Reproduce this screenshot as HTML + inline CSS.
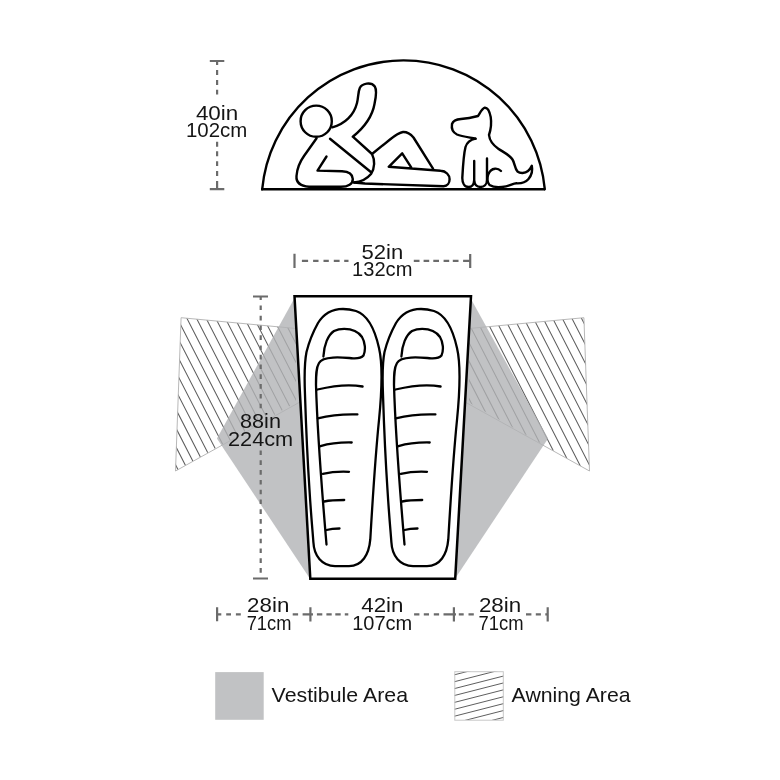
<!DOCTYPE html>
<html><head><meta charset="utf-8">
<style>
html,body{margin:0;padding:0;background:#fff;}
body{width:780px;height:780px;overflow:hidden;}
svg{display:block;will-change:transform;}
text{font-family:"Liberation Sans",sans-serif;fill:#151515;}
</style></head>
<body>
<svg width="780" height="780" viewBox="0 0 780 780">
<defs>
  <clipPath id="awnL"><polygon points="181.1,317.7 296,328.5 296,402.5 175.5,471"/></clipPath>
  <clipPath id="awnR"><polygon points="583.9,317.7 469,328.5 469,402.5 589.5,471"/></clipPath>
  <clipPath id="legH"><rect x="454.5" y="671.5" width="49" height="48.5"/></clipPath>
</defs>

<!-- ===== top: dome ===== -->
<g fill="none" stroke="#000" stroke-width="2.4" stroke-linecap="round" stroke-linejoin="round">
  <path d="M262.2,189.2 A141.9,141.9 0 0 1 544.8,189.2"/>
  <path d="M261,189.2 L545,189.2" stroke-linecap="butt"/>
  <!-- head -->
  <circle cx="316.2" cy="121.2" r="15.6"/>
  <!-- arm -->
  <path d="M332.3,127.3 C345,124 354,115 357,103 C358.5,97 358,92 359.8,88 C362,83.5 371,81.5 374.8,86.5 C377,90 376,97 374.5,104 C372,118 363,128.5 352.8,136.7 L372,154 L390,139.5 C395,135.5 399,132.5 403,132 C407,131.8 410.5,134 413.5,137.5 L433,168.7"/>
  <!-- torso diagonal -->
  <path d="M330,138.8 L370.8,172"/>
  <!-- hip curve -->
  <path d="M372,154 C375,160 375,168 371,174 C366,180 360,182 354,182.5"/>
  <!-- body left & forearm -->
  <path d="M316.6,138.3 L304,156 C299,163 297,169 296.5,176 C296,182 300,186 309,186.8 L341,186.8 C348,186.8 353,184 352.8,179 C352.5,174 348,171.5 342,171.3 L317.5,170.6 L326.5,156.5"/>
  <!-- lower leg -->
  <path d="M354,182.5 L365,183.5 L443.5,186.3 C447.5,186.1 449.6,183 449.6,179.3 C449.6,175 446,171 440.6,170.8 L388.7,166.8 L402.2,153.3 L411.2,167.4"/>
  <!-- dog -->
  <path d="M475.5,138.7 C470,137.5 462,136.5 457,134.5 C452,132 451.5,127 452,124 C453,121 457,119.3 461,119 C467,118.5 473,117.3 478,116 C480,113 482,108.5 484.8,107.7 C487.5,107.5 489.5,111 490.7,117 C491.5,122 491,129 489,135 C489.5,140 493,145 498.3,148.7 C503,152 509,154.5 512.5,159.5 C515,163.5 514.5,168 517.5,171.5 C520,173.5 525,173.5 528,171 C530,169.5 531,167.5 531.8,165.8 C532.8,170.5 531.5,175.5 528.5,179 C525.5,182.5 521,183.5 516.5,183.3 C513,183.5 511,185.2 506,186.3 C500,187.5 493,187.2 489.5,185 C487,182.5 487,177.5 488.2,174.5 C489.5,171 492,169 495,168.7 C497.5,168.5 499.5,169.5 501,171"/>
  <path d="M475.5,138.7 C470,140 467,142 465.5,147 C463.5,155 463,165 462.3,178 C462.3,183 464.5,187 468.5,187 C472,187 474,184 474.2,180 L474.2,160.9 M474.2,180 C474.5,184.5 477,187 480.5,187 C484,187 487,184.5 487,180 L487,158.5"/>
</g>
<!-- dome dimension -->
<g stroke="#6b6b6b" stroke-width="2.2" fill="none">
  <path d="M209.8,61 H224.3 M209.8,189.2 H224.3"/>
  <path d="M217.1,61 V65 M217.1,70 V75 M217.1,80 V85 M217.1,89.7 V94.5 M217.1,141.8 V146.7 M217.1,151.3 V156.2 M217.1,161.2 V166.1 M217.1,171.1 V176 M217.1,180.9 V189"/>
</g>
<text x="217.1" y="119.6" font-size="21" text-anchor="middle" textLength="42.4" lengthAdjust="spacingAndGlyphs">40in</text>
<text x="216.6" y="136.8" font-size="21" text-anchor="middle" textLength="61.3" lengthAdjust="spacingAndGlyphs">102cm</text>

<!-- ===== floor plan ===== -->
<!-- awnings (hatched) -->
<g clip-path="url(#awnL)"><path d="M81.43,300L173.74,480M91.04,300L183.34,480M100.65,300L192.95,480M110.25,300L202.56,480M119.86,300L212.17,480M129.47,300L221.78,480M139.08,300L231.39,480M148.69,300L241.00,480M158.30,300L250.61,480M167.91,300L260.21,480M177.52,300L269.82,480M187.12,300L279.43,480M196.73,300L289.04,480M206.34,300L298.65,480M215.95,300L308.26,480M225.56,300L317.87,480M235.17,300L327.48,480M244.78,300L337.08,480M254.39,300L346.69,480M263.99,300L356.30,480M273.60,300L365.91,480M283.21,300L375.52,480M292.82,300L385.13,480" stroke="#5e5e5e" stroke-width="1.05" fill="none"/></g>
<g clip-path="url(#awnR)"><path d="M370.32,300L462.63,480M379.93,300L472.24,480M389.54,300L481.85,480M399.15,300L491.46,480M408.76,300L501.07,480M418.37,300L510.67,480M427.98,300L520.28,480M437.58,300L529.89,480M447.19,300L539.50,480M456.80,300L549.11,480M466.41,300L558.72,480M476.02,300L568.33,480M485.63,300L577.94,480M495.24,300L587.54,480M504.85,300L597.15,480M514.45,300L606.76,480M524.06,300L616.37,480M533.67,300L625.98,480M543.28,300L635.59,480M552.89,300L645.20,480M562.50,300L654.81,480M572.11,300L664.41,480M581.71,300L674.02,480M591.32,300L683.63,480" stroke="#5e5e5e" stroke-width="1.05" fill="none"/></g>
<polyline points="296,328.5 181.1,317.7 175.5,471 300,402" fill="none" stroke="#b0b0b0" stroke-width="0.9"/>
<polyline points="469,328.5 583.9,317.7 589.5,471 465,402" fill="none" stroke="#b0b0b0" stroke-width="0.9"/>
<!-- vestibules -->
<polygon points="294,299 216.9,438.5 309.5,578" fill="#b2b3b5" fill-opacity="0.8"/>
<polygon points="471,299 548.1,438.5 455.5,578" fill="#b2b3b5" fill-opacity="0.8"/>

<!-- top dimension 52in -->
<g stroke="#6b6b6b" stroke-width="2.2" fill="none">
  <path d="M294.5,253.8 V268 M470.2,254 V268"/>
  <path d="M301.9,260.9 H308.1 M313.1,260.9 H318.5 M323.5,260.9 H328.8 M333.8,260.9 H339.6 M344.2,260.9 H348.5 M413.8,260.9 H419.5 M423.6,260.9 H429.2 M433.3,260.9 H439 M443.6,260.9 H449.2 M452.8,260.9 H458.5 M463.1,260.9 H470"/>
</g>
<text x="382.35" y="258.6" font-size="21" text-anchor="middle" textLength="41.7" lengthAdjust="spacingAndGlyphs">52in</text>
<text x="382.25" y="275.5" font-size="21" text-anchor="middle" textLength="60.3" lengthAdjust="spacingAndGlyphs">132cm</text>

<!-- left dimension 88in -->
<g stroke="#6b6b6b" stroke-width="2.2" fill="none">
  <path d="M253,296.5 H268 M253,578.5 H268"/>
  <path d="M260.7,296.5 V300 M260.7,305.5 V310.1 M260.7,315.8 V320.4 M260.7,325.5 V330.1 M260.7,335.3 V339.9 M260.7,345.5 V350.1 M260.7,354.7 V359.4 M260.7,364.5 V369.1 M260.7,374.3 V378.9 M260.7,384.1 V388.7 M260.7,393.9 V398.5 M260.7,403.7 V408.3 M260.7,450.5 V455.1 M260.7,460.3 V464.9 M260.7,470.1 V474.7 M260.7,479.9 V484.5 M260.7,489.7 V494.3 M260.7,499.5 V504.1 M260.7,509.3 V513.9 M260.7,519.1 V523.7 M260.7,528.9 V533.5 M260.7,538.7 V543.3 M260.7,548.5 V553.1 M260.7,558.3 V562.9 M260.7,568.1 V572.7"/>
</g>
<text x="260.5" y="427.5" font-size="21" text-anchor="middle" textLength="40.9" lengthAdjust="spacingAndGlyphs">88in</text>
<text x="260.55" y="445.9" font-size="21" text-anchor="middle" textLength="65.1" lengthAdjust="spacingAndGlyphs">224cm</text>

<!-- tent outline -->
<g fill="none" stroke="#000" stroke-width="2.5" stroke-linejoin="miter">
  <polygon points="294.5,296.3 471,296.3 455.2,578.8 310.3,578.8"/>
</g>
<!-- sleeping bags -->
<g id="bag" fill="none" stroke="#000" stroke-width="2.3" stroke-linecap="round" stroke-linejoin="round">
  <path d="M343,308.8 C333,309 324,313 318,323 C313,332 309,342 306.5,352 C304.5,362 304.3,378 305,395 C305.8,420 307.5,460 309.5,490 C311,515 312.5,530 313.4,542.3 C314,556 322,566 335,566.2 L349,566.2 C362,566 369,555 370.3,539.2 C372,510 375,460 379,420 C382,390 383,365 379,348 C375,330 368,315 356,311 C351,309.5 347,309 343,309 Z"/>
  <path d="M323.4,356.5 C324,345 328,335 334,331 C338,329 341,328.8 344.2,328.8 C352,328.8 358,331 362,337 C365,342 366,350 363.5,355.5 C361,358.5 357,358.5 353,358.3 C346,357.8 340,357.1 333,357.6 C326,358 321,359 319,363 C316,368 316,375 316,385 C317,420 321,480 326.5,544.5"/>
  <path d="M317.5,389.5 C332,386 347,383.5 362.6,386.5"/>
  <path d="M317.8,418.3 C331,415 344,414 357.4,414.4"/>
  <path d="M320.5,446.2 C331,443 341,442.3 351.7,442.5"/>
  <path d="M322.8,473.8 C332,471.7 340,471.4 349,471.8"/>
  <path d="M324.2,501.5 C330,500.3 337,500 344.2,500"/>
  <path d="M326.5,530 C330,529 334,528.5 339.5,528.5"/>
</g>
<use href="#bag" x="78" y="0"/>

<!-- bottom dimensions -->
<g stroke="#6b6b6b" stroke-width="2.2" fill="none">
  <path d="M217.1,607.2 V621.3 M310.4,607.2 V621.5 M453.9,607.2 V621.5 M547.7,607.2 V621.5"/>
  <path d="M217.1,614.4 H221.3 M226.2,614.4 H231 M235.9,614.4 H240.8 M292.7,614.4 H298.1 M302.6,614.4 H310.4 H313 M316.9,614.4 H322.3 M326.4,614.4 H331.7 M335.3,614.4 H340.7 M344.8,614.4 H348.3"/>
  <path d="M414.1,614.4 H419.4 M423.8,614.4 H429 M433.8,614.4 H439.1 M443.5,614.4 H456 M458.8,614.4 H463.7 M468.5,614.4 H473.8"/>
  <path d="M526,614.4 H531.4 M535.8,614.4 H540.9 M545.3,614.4 H547.7"/>
</g>
<text x="268.2" y="611.6" font-size="21" text-anchor="middle" textLength="42.2" lengthAdjust="spacingAndGlyphs">28in</text>
<text x="269.05" y="629.6" font-size="21" text-anchor="middle" textLength="44.7" lengthAdjust="spacingAndGlyphs">71cm</text>
<text x="382.4" y="611.7" font-size="21" text-anchor="middle" textLength="42.2" lengthAdjust="spacingAndGlyphs">42in</text>
<text x="382.25" y="629.5" font-size="21" text-anchor="middle" textLength="60.1" lengthAdjust="spacingAndGlyphs">107cm</text>
<text x="500.05" y="611.6" font-size="21" text-anchor="middle" textLength="42.3" lengthAdjust="spacingAndGlyphs">28in</text>
<text x="501.1" y="629.6" font-size="21" text-anchor="middle" textLength="45.0" lengthAdjust="spacingAndGlyphs">71cm</text>

<!-- legend -->
<rect x="215.2" y="672.1" width="48.5" height="47.7" fill="#c1c2c4"/>
<text x="271.6" y="702.1" font-size="21" textLength="136.4" lengthAdjust="spacingAndGlyphs">Vestibule Area</text>
<g clip-path="url(#legH)">
  <rect x="454" y="671" width="50" height="50" fill="#fff"/>
  <g stroke="#555" stroke-width="0.95">
    <path d="M440,678.50 L520,658.00 M440,685.40 L520,664.90 M440,692.30 L520,671.80 M440,699.20 L520,678.70 M440,706.10 L520,685.60 M440,713.00 L520,692.50 M440,719.90 L520,699.40 M440,726.80 L520,706.30 M440,733.70 L520,713.20 M440,740.60 L520,720.10 M440,747.50 L520,727.00 M440,754.40 L520,733.90"/>
  </g>
</g>
<rect x="454.8" y="671.7" width="48.5" height="48.5" fill="none" stroke="#c8c8c8" stroke-width="1"/>
<text x="511.6" y="702.3" font-size="21" textLength="119" lengthAdjust="spacingAndGlyphs">Awning Area</text>
</svg>
</body></html>
